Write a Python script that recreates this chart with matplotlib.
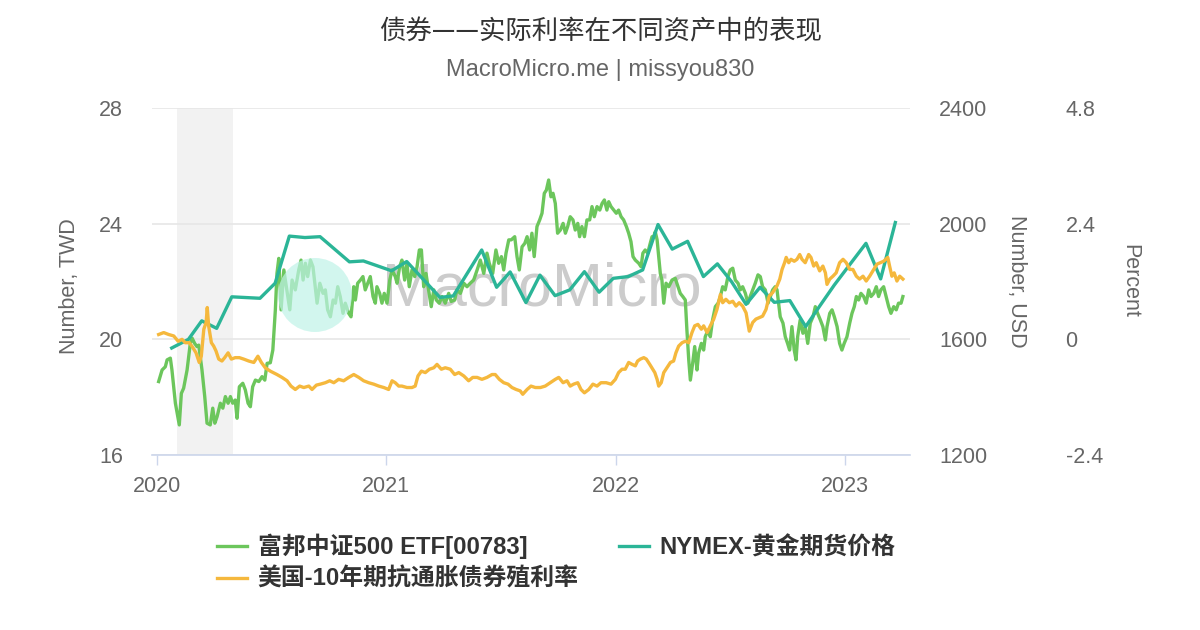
import matplotlib
matplotlib.use("Agg")
import matplotlib.pyplot as plt
from matplotlib.patches import Ellipse
from matplotlib.font_manager import FontProperties

plt.rcParams['font.family'] = ['Liberation Sans', 'Noto Sans CJK SC']

# --- data (x in years after 2020-01-01) ---
etf_t = [0.007, 0.022, 0.036, 0.044, 0.058, 0.065, 0.080, 0.097, 0.106, 0.116,
         0.131, 0.145, 0.153, 0.164, 0.174, 0.182, 0.196, 0.208, 0.218, 0.232,
         0.243, 0.252, 0.262, 0.276, 0.287, 0.298, 0.310, 0.320, 0.330, 0.341,
         0.349, 0.359, 0.374, 0.385, 0.397, 0.407, 0.417, 0.429, 0.444, 0.458,
         0.470, 0.480, 0.494, 0.505, 0.516, 0.523] + \
        [0.531, 0.541, 0.553, 0.564, 0.579, 0.589, 0.603, 0.618, 0.628, 0.637,
         0.647, 0.657, 0.669, 0.680, 0.690, 0.698, 0.710, 0.724, 0.734, 0.744,
         0.756, 0.768, 0.778, 0.788, 0.799, 0.811, 0.821, 0.836, 0.846, 0.858,
         0.865, 0.875, 0.887, 0.898, 0.908, 0.919, 0.930, 0.942, 0.952, 0.959,
         0.971, 0.981, 0.991, 1.003, 1.015, 1.025, 1.039, 1.047, 1.058, 1.068] + \
        [1.080, 1.090, 1.100, 1.112, 1.124, 1.134, 1.144, 1.153, 1.163, 1.173,
         1.182, 1.196, 1.207, 1.218, 1.231, 1.243, 1.257, 1.272, 1.283, 1.298,
         1.308, 1.323, 1.338, 1.352, 1.366, 1.381, 1.396, 1.410, 1.425, 1.439,
         1.449, 1.464, 1.478, 1.490, 1.502, 1.512, 1.522, 1.534, 1.545, 1.560,
         1.570, 1.580, 1.592, 1.604, 1.614] + \
        [1.625, 1.635, 1.645, 1.657, 1.669, 1.679, 1.689, 1.698, 1.708, 1.718,
         1.727, 1.737, 1.747, 1.759, 1.771, 1.781, 1.791, 1.802, 1.814, 1.824,
         1.835, 1.843, 1.853, 1.864, 1.875, 1.887, 1.897, 1.907, 1.919, 1.931,
         1.941, 1.951, 1.962, 1.970, 1.980, 1.992, 2.003, 2.013, 2.024, 2.035,
         2.047, 2.057, 2.067, 2.076, 2.086, 2.101, 2.111, 2.119, 2.129, 2.140,
         2.151, 2.159] + \
        [2.166, 2.173, 2.181, 2.188, 2.195, 2.202, 2.210, 2.220, 2.232, 2.246,
         2.260, 2.272, 2.282, 2.293, 2.304, 2.311, 2.319, 2.326, 2.336, 2.345,
         2.355, 2.362, 2.374, 2.384, 2.391, 2.403, 2.413, 2.423, 2.435, 2.447,
         2.457, 2.467, 2.478, 2.490, 2.500, 2.511, 2.522, 2.534, 2.544, 2.554,
         2.566, 2.577, 2.587, 2.598, 2.609, 2.621, 2.631, 2.641, 2.653, 2.665,
         2.675, 2.685, 2.696, 2.704] + \
        [2.711, 2.718, 2.730, 2.740, 2.750, 2.759, 2.769, 2.779, 2.787, 2.794,
         2.805, 2.817, 2.827, 2.838, 2.849, 2.861, 2.871, 2.881, 2.893, 2.904,
         2.915, 2.922, 2.934, 2.944, 2.954, 2.966, 2.977, 2.987, 2.997, 3.009,
         3.021, 3.031, 3.041, 3.050, 3.060, 3.070, 3.082, 3.093, 3.104, 3.114,
         3.126, 3.137, 3.147, 3.157, 3.169, 3.180, 3.191, 3.201, 3.213, 3.224,
         3.234, 3.245, 3.253]

etf_v = [18.54, 18.94, 19.05, 19.29, 19.35, 18.94, 17.79, 17.04, 18.13, 18.31,
         18.94, 19.86, 20.04, 19.86, 19.75, 19.80, 18.94, 18.02, 17.10, 17.04,
         17.62, 17.10, 17.33, 17.79, 17.62, 18.02, 17.79, 18.02, 17.79, 17.90,
         17.27, 18.36, 18.48, 18.25, 17.79, 17.67, 18.36, 18.59, 18.54, 18.71,
         18.59, 19.17, 19.19, 19.63, 21.02, 22.28] + \
        [22.80, 21.02, 22.40, 21.82, 21.02, 22.05, 21.71, 22.40, 22.74, 22.05,
         22.63, 22.17, 22.74, 22.51, 21.82, 21.25, 21.94, 21.59, 21.71, 21.02,
         20.78, 21.36, 21.25, 21.82, 21.48, 20.90, 21.25, 20.90, 20.78, 21.82,
         21.36, 21.94, 22.05, 22.17, 21.71, 21.94, 22.17, 21.48, 21.25, 21.82,
         21.59, 21.25, 21.59, 21.25, 22.05, 22.40, 22.17, 21.94, 22.51, 22.74] + \
        [22.05, 22.63, 21.82, 22.40, 22.17, 22.51, 23.09, 23.09, 21.82, 22.28,
         21.82, 21.13, 21.71, 21.36, 21.25, 21.48, 21.25, 21.59, 21.31, 21.36,
         21.71, 21.59, 21.94, 21.82, 21.94, 22.05, 22.40, 22.74, 22.28, 22.98,
         22.63, 22.28, 23.09, 22.63, 22.86, 22.40, 22.98, 23.44, 23.44, 23.55,
         22.86, 22.40, 23.20, 23.32, 23.55] + \
        [23.09, 23.67, 22.86, 23.90, 24.13, 24.36, 25.05, 25.16, 25.51, 24.93,
         25.05, 24.70, 23.67, 23.78, 24.01, 23.67, 23.90, 24.24, 24.13, 23.78,
         24.01, 23.55, 23.90, 23.55, 24.13, 24.13, 24.59, 24.24, 24.59, 24.47,
         24.70, 24.82, 24.47, 24.76, 24.59, 24.47, 24.36, 24.47, 24.24, 24.13,
         23.90, 23.67, 23.38, 22.86, 22.74, 22.63, 22.51, 22.98, 23.09, 22.98,
         23.32, 23.55] + \
        [23.55, 23.72, 23.44, 22.86, 22.28, 22.05, 21.25, 21.94, 21.82, 22.05,
         22.11, 21.82, 21.59, 21.48, 21.36, 20.32, 19.29, 18.59, 19.17, 19.75,
         18.94, 19.52, 19.86, 19.63, 20.09, 20.32, 20.09, 20.67, 21.13, 21.25,
         21.48, 21.82, 21.71, 22.17, 22.40, 22.46, 22.05, 21.94, 21.71, 21.82,
         21.59, 21.25, 21.48, 21.71, 21.94, 22.23, 22.17, 21.82, 21.71, 21.25,
         21.48, 21.71, 21.82, 21.71] + \
        [21.25, 20.78, 20.56, 20.09, 19.86, 19.63, 20.44, 19.63, 19.29, 20.09,
         20.67, 20.21, 20.44, 19.86, 20.56, 20.78, 21.13, 20.90, 20.67, 20.44,
         19.98, 20.44, 20.90, 21.02, 20.78, 20.44, 19.86, 19.63, 19.86, 20.09,
         20.56, 20.90, 21.13, 21.48, 21.36, 21.59, 21.48, 21.25, 21.71, 21.48,
         21.59, 21.82, 21.48, 21.71, 21.82, 21.48, 21.13, 20.90, 21.13, 21.02,
         21.25, 21.25, 21.48]

gold_t = [0.064, 0.137, 0.195, 0.260, 0.326, 0.449, 0.515, 0.577, 0.645, 0.711,
          0.839, 0.900, 1.023, 1.089, 1.234, 1.292, 1.416, 1.481, 1.540, 1.609,
          1.670, 1.736, 1.800, 1.864, 1.928, 1.990, 2.055, 2.118, 2.185, 2.247,
          2.314, 2.383, 2.444, 2.506, 2.569, 2.630, 2.692, 2.760, 2.829, 2.891,
          2.954, 3.018, 3.092, 3.156, 3.220]
gold_v = [1570, 1600, 1664, 1638, 1747, 1742, 1794, 1957, 1952, 1955,
          1868, 1871, 1837, 1869, 1745, 1750, 1909, 1780, 1833, 1727,
          1822, 1751, 1771, 1834, 1763, 1811, 1817, 1840, 1997, 1912,
          1939, 1817, 1861, 1799, 1721, 1780, 1728, 1734, 1644, 1716,
          1788, 1855, 1932, 1809, 2004]

tips_t = [0.007, 0.029, 0.051, 0.073, 0.092, 0.109, 0.123, 0.141, 0.156, 0.170,
          0.184, 0.193, 0.204, 0.214, 0.219, 0.225, 0.237, 0.247, 0.257, 0.269,
          0.283, 0.295, 0.310, 0.324, 0.341, 0.359, 0.378, 0.400, 0.422, 0.440,
          0.455, 0.472, 0.494, 0.523,
          0.545, 0.567, 0.584, 0.603, 0.622, 0.640, 0.662, 0.676, 0.695, 0.712,
          0.734, 0.753, 0.771, 0.792, 0.814, 0.836, 0.858, 0.880, 0.901, 0.923,
          0.945, 0.967, 0.989, 1.010, 1.025, 1.039, 1.054, 1.068,
          1.090, 1.112, 1.126, 1.138, 1.153, 1.170, 1.188, 1.207, 1.221, 1.240,
          1.257, 1.279, 1.298, 1.316, 1.338, 1.359, 1.377, 1.396, 1.417, 1.439,
          1.461, 1.475, 1.493, 1.512, 1.531, 1.548, 1.566, 1.584, 1.595, 1.614,
          1.631, 1.650, 1.672, 1.693, 1.715, 1.737, 1.752, 1.771, 1.788, 1.802,
          1.817, 1.835, 1.849, 1.864, 1.883, 1.901, 1.919, 1.936, 1.959, 1.980,
          1.999, 2.013, 2.028, 2.042, 2.057, 2.072, 2.086, 2.096, 2.108, 2.123,
          2.134, 2.149,
          2.171, 2.181, 2.188, 2.199, 2.210, 2.224, 2.239, 2.253, 2.263, 2.275,
          2.290, 2.304, 2.319, 2.333, 2.345, 2.359, 2.374, 2.384, 2.399, 2.413,
          2.428, 2.442, 2.457, 2.467, 2.481, 2.496, 2.511, 2.525, 2.539, 2.554,
          2.569, 2.583, 2.598, 2.612, 2.627, 2.641, 2.656, 2.670, 2.685, 2.704,
          2.716, 2.726, 2.737, 2.744, 2.755, 2.765, 2.779, 2.791, 2.803, 2.813,
          2.827, 2.842, 2.852, 2.864, 2.875, 2.890, 2.904, 2.915, 2.922, 2.934,
          2.948, 2.962, 2.977, 2.992, 3.006, 3.021, 3.035, 3.050, 3.064, 3.079,
          3.093, 3.108, 3.126, 3.140, 3.154, 3.169, 3.187, 3.195, 3.205, 3.215,
          3.227, 3.239, 3.253]
tips_v = [0.10, 0.14, 0.10, 0.07, -0.04, 0.00, -0.07, -0.07, -0.17, -0.28,
          -0.48, -0.35, 0.21, 0.35, 0.66, 0.28, -0.07, -0.14, -0.24, -0.41,
          -0.45, -0.38, -0.28, -0.41, -0.38, -0.38, -0.41, -0.45, -0.48, -0.35,
          -0.48, -0.59, -0.66, -0.73,
          -0.79, -0.86, -0.97, -1.04, -0.97, -1.00, -0.97, -1.04, -0.95, -0.93,
          -0.90, -0.86, -0.90, -0.83, -0.86, -0.79, -0.73, -0.79, -0.86, -0.90,
          -0.93, -0.97, -1.00, -1.04, -0.86, -0.90, -0.97, -0.97,
          -1.00, -1.00, -0.97, -0.76, -0.66, -0.69, -0.62, -0.59, -0.52, -0.62,
          -0.59, -0.62, -0.73, -0.69, -0.76, -0.86, -0.79, -0.79, -0.83, -0.79,
          -0.73, -0.73, -0.83, -0.90, -0.93, -1.00, -1.04, -1.07, -1.14, -1.04,
          -0.97, -1.00, -1.00, -0.97, -0.90, -0.83, -0.79, -0.90, -0.86, -0.97,
          -0.93, -0.90, -1.04, -1.11, -1.04, -0.93, -0.97, -0.90, -0.90, -0.93,
          -0.83, -0.69, -0.62, -0.62, -0.48, -0.52, -0.55, -0.45, -0.41, -0.38,
          -0.41, -0.52,
          -0.69, -0.83, -0.97, -0.90, -0.69, -0.59, -0.48, -0.45, -0.28, -0.14,
          -0.07, -0.04, -0.07, 0.14, 0.28, 0.31, 0.21, 0.28, 0.14, 0.28,
          0.42, 0.62, 0.93, 0.76, 0.83, 0.76, 0.79, 0.69, 0.76, 0.69,
          0.55, 0.17, 0.35, 0.42, 0.45, 0.48, 0.62, 0.90, 0.97, 1.11,
          1.25, 1.45, 1.59, 1.70, 1.59, 1.66, 1.62, 1.66, 1.76, 1.66,
          1.59, 1.76, 1.70, 1.52, 1.59, 1.42, 1.52, 1.38, 1.14, 1.25,
          1.31, 1.38, 1.59, 1.66, 1.59, 1.45, 1.45, 1.31, 1.25, 1.31,
          1.21, 1.31, 1.45, 1.56, 1.59, 1.62, 1.70, 1.52, 1.31, 1.38,
          1.21, 1.31, 1.25]

recession = (0.085, 0.330)

years = [2020, 2021, 2022, 2023]
left_ticks = [16, 20, 24, 28]
gold_ticks = [1200, 1600, 2000, 2400]
pct_ticks = [-2.4, 0, 2.4, 4.8]
pct_labels = ["-2.4", "0", "2.4", "4.8"]

names = ["富邦中证500 ETF[00783]", "NYMEX-黄金期货价格", "美国-10年期抗通胀债券殖利率"]
colors = ["#6cc65c", "#2bb597", "#f5b83d"]

etf_x = [2020 + t for t in etf_t]
gold_x = [2020 + t for t in gold_t]
tips_x = [2020 + t for t in tips_t]

W, H = 1200, 630
fig = plt.figure(figsize=(12, 6.3), dpi=100)
ax1 = fig.add_axes([152 / W, 1 - 455 / H, 758 / W, 347 / H])
ax2 = ax1.twinx()
ax3 = ax1.twinx()

ax1.axvspan(2020 + recession[0], 2020 + recession[1], color="#f2f2f2", lw=0, zorder=0)
l1, = ax1.plot(etf_x, etf_v, color=colors[0], lw=2.4, zorder=3)
l2, = ax2.plot(gold_x, gold_v, color=colors[1], lw=2.4, zorder=3)
l3, = ax3.plot(tips_x, tips_v, color=colors[2], lw=2.4, zorder=3)

ax1.set_xlim(2019.978, 2023.284)
ax1.set_ylim(16, 28)
ax2.set_ylim(1200, 2400)
ax3.set_ylim(-2.4, 4.8)

ax1.set_yticks(left_ticks)
ax2.set_yticks(gold_ticks)
ax3.set_yticks(pct_ticks)
ax3.set_yticklabels(pct_labels)
ax1.set_xticks(years)
ax1.set_xticklabels([str(y) for y in years])

ax1.yaxis.grid(True, color="#e6e6e6", lw=1.2)
ax1.set_axisbelow(True)

for ax in (ax1, ax2, ax3):
    for s in ax.spines.values():
        s.set_visible(False)
ax1.spines["bottom"].set_visible(True)
ax1.spines["bottom"].set_color("#ccd6eb")
ax1.spines["bottom"].set_linewidth(1.2)

tick_kw = dict(labelsize=15.5, labelcolor="#666666")
ax1.tick_params(axis="y", length=0, pad=21, **tick_kw)
ax1.tick_params(axis="x", length=7, width=1, color="#ccd6eb", pad=8, **tick_kw)
ax2.tick_params(axis="y", length=0, pad=21, **tick_kw)
ax3.tick_params(axis="y", length=0, pad=112, **tick_kw)

# axis titles
fig.text(70 / W, 1 - 286 / H, "Number, TWD", rotation=90, ha="center", va="center",
         fontsize=15.5, color="#666666")
fig.text(1017 / W, 1 - 281 / H, "Number, USD", rotation=270, ha="center", va="center",
         fontsize=15.5, color="#666666")
fig.text(1130 / W, 1 - 281 / H, "Percent", rotation=270, ha="center", va="center",
         fontsize=15.5, color="#666666")

# title and subtitle
fig.text(0.5, 1 - 32 / H, "债券——实际利率在不同资产中的表现", ha="center", va="center",
         fontsize=19, color="#333333", family=["Noto Sans CJK SC", "DejaVu Sans"])
fig.text(0.5, 1 - 70 / H, "MacroMicro.me | missyou830", ha="center", va="center",
         fontsize=17, color="#666666")

# watermark
ax1.text(542 / W, 1 - 290 / H, "MacroMicro", transform=fig.transFigure, ha="center",
         va="center", fontsize=44, color="#cccccc", zorder=1)
fig.add_artist(Ellipse((315 / W, 1 - 295 / H), 74 / W, 74 / H, transform=fig.transFigure,
                       facecolor="#c0f3e8", edgecolor="none", alpha=0.7, zorder=5))

# legend
leg_font = FontProperties(family=["Liberation Sans", "Noto Sans CJK SC"], weight="bold", size=17.2)
fig.legend([l1, l3, l2], [names[0], names[2], names[1]], ncol=2, frameon=False,
           loc="upper left", bbox_to_anchor=(217 / W, 1 - 534 / H), borderaxespad=0,
           borderpad=0, prop=leg_font, handlelength=1.25, handletextpad=0.45,
           columnspacing=1.7, labelspacing=0.35, labelcolor="#333333")

fig.savefig("out.png", dpi=100)
